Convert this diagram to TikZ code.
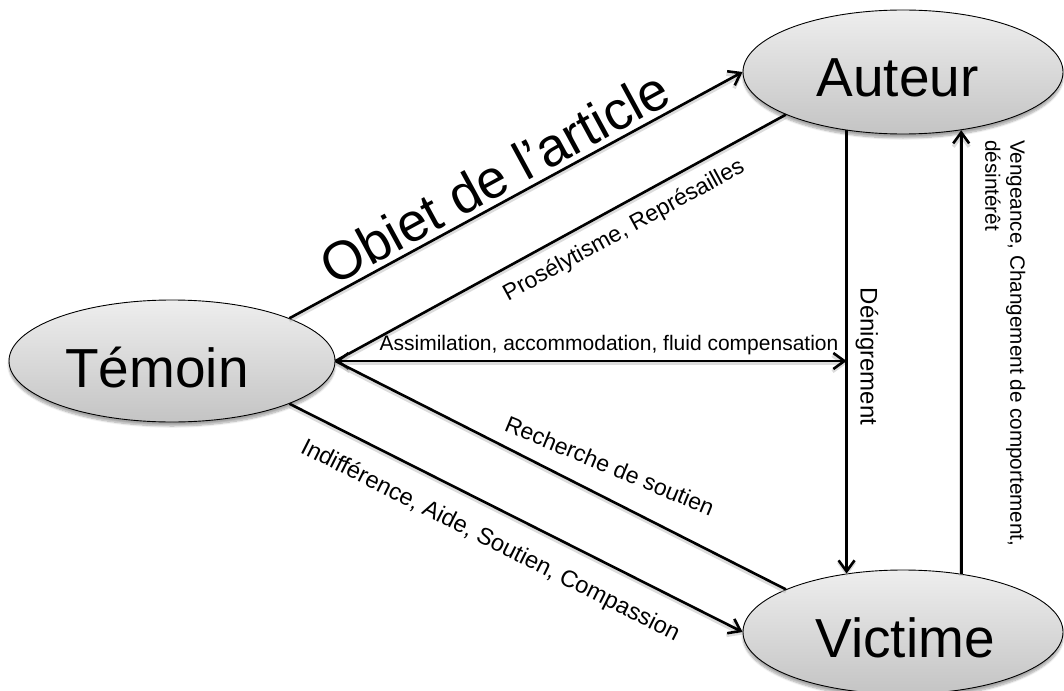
\documentclass[tikz,border=0pt]{standalone}
\usepackage{fontspec}
\setmainfont{Liberation Sans}
\usetikzlibrary{shapes.geometric, arrows.meta, shadows.blur}
\definecolor{elltop}{HTML}{EEEEEE}
\definecolor{ellbot}{HTML}{C4C4C4}
\begin{document}
\begin{tikzpicture}[x=1pt,y=-1pt,
  state/.style={ellipse, draw=black, line width=0.9pt, top color=elltop, bottom color=ellbot, inner sep=0pt,
    blur shadow={shadow xshift=0pt, shadow yshift=-4pt, shadow blur steps=8, shadow opacity=35}},
  bigtxt/.style={font=\fontsize{55}{60}\selectfont, inner sep=0pt},
  conn/.style={line width=2.6pt, black,
    preaction={draw=black!30, opacity=.45, line width=3.6pt, transform canvas={yshift=-2.5pt}}},
  barb/.tip={Straight Barb[length=11pt,width=16pt]},
  tipped/.style={conn, -barb},
  lab/.style={font=\fontsize{23}{27}\selectfont},
]
\useasboundingbox (0,0) rectangle (1064,690);

\node[state, minimum width=326pt, minimum height=122pt] (T) at (172,361) {};
\node[state, minimum width=320pt, minimum height=124pt] (A) at (903,72) {};
\node[state, minimum width=320pt, minimum height=124pt] (V) at (903,632) {};

\draw[tipped] (T.20) -- node[sloped, above, pos=.48, inner sep=5pt, font=\fontsize{54}{60}\selectfont] (Ol) {Obiet de l’article} (A.west);
\draw[conn] (T.east) -- node[sloped, below, pos=.615, inner sep=12pt, lab] (Pl) {Prosélytisme, Représailles} (A.200);
\coordinate (D) at (T.east -| A.226);
\draw[conn, barb-barb] (T.east) -- (D);
\node[font=\fontsize{21}{25}\selectfont, anchor=base] (Al) at (609,350) {Assimilation, accommodation, fluid compensation};
\draw[conn] (V.160) -- (T.east);
\node[lab, rotate=-22.5, anchor=base] (Rl) at (606.7,473.3) {Recherche de soutien};
\draw[tipped] (T.-20) -- node[sloped, below, pos=.475, inner sep=20pt, font=\fontsize{23.6}{27}\selectfont] (Il) {Indifférence, Aide, Soutien, Compassion} (V.west);
\draw[tipped] (A.226) -- (V.134);
\node[font=\fontsize{24}{28}\selectfont, rotate=-90] (Dl) at (867,356.5) {Dénigrement};
\draw[tipped] (V.45.5) -- (A.-45.5);
\node[font=\fontsize{20.7}{25}\selectfont, rotate=-90, anchor=north west, inner sep=0pt, align=left] (Vl) at (1025.5,140) {Vengeance, Changement de comportement,\\désintérêt};

\node[bigtxt, anchor=base] (Tt) at (157,387) {Témoin};
\node[bigtxt, anchor=base] (At) at (897.5,97) {Auteur};
\node[bigtxt, anchor=base] (Vt) at (905,657) {Victime};
\end{tikzpicture}
\end{document}
